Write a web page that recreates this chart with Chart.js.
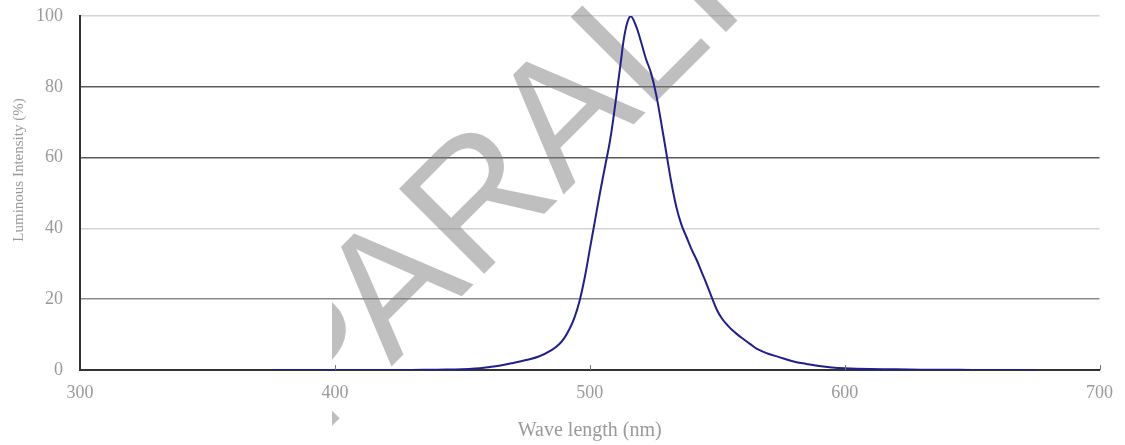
<!DOCTYPE html>
<html>
<head>
<meta charset="utf-8">
<script src="https://cdn.jsdelivr.net/npm/chart.js@4.4.1/dist/chart.umd.min.js"></script>
<style>
  html, body { margin: 0; padding: 0; background: #ffffff; }
  #wrap { width: 1125px; height: 445px; position: relative; }
</style>
</head>
<body>
<div id="wrap"><canvas id="spectrumChart"></canvas></div>
<script>
// emission spectrum
const wavelengths = [375, 380, 390, 400, 410, 420, 430, 440, 450, 455, 460, 465, 470, 475, 480, 485, 488, 490, 492, 494, 496, 498, 500, 502, 504, 506, 508, 510, 512, 514, 516, 518, 520, 522, 524, 526, 528, 530, 532, 534, 536, 538, 540, 542, 544, 546, 548, 550, 552, 554, 556, 558, 560, 563, 566, 570, 574, 580, 585, 590, 595, 600, 610, 620, 630, 640, 650, 660, 675];
const intensity = [0, 0, 0, 0, 0, 0, 0, 0.1, 0.2, 0.4, 0.8, 1.3, 2.0, 2.8, 3.8, 5.6, 7.3, 9.0, 11.5, 14.8, 19.5, 26, 34, 42, 50, 57.5, 65, 75, 86, 96, 100, 97.5, 93, 88, 84, 78, 70, 61.5, 53, 46, 41, 37.5, 34, 31, 27.5, 24, 20.3, 16.8, 14.4, 12.7, 11.2, 10, 8.9, 7.3, 5.8, 4.6, 3.7, 2.4, 1.7, 1.1, 0.7, 0.5, 0.3, 0.2, 0.1, 0.1, 0, 0, 0];

const xTickValues = [300, 400, 500, 600, 700];
const yTickValues = [0, 20, 40, 60, 80, 100];
const xTitle = "Wave length (nm)";
const yTitle = "Luminous Intensity (%)";
const watermarkText = "PARALIGHT";

// gridline shades differ in the source image
const gridShade = { 0: "#333333", 20: "#8a8a8a", 40: "#d4d4d4", 60: "#5a5a5a", 80: "#5a5a5a", 100: "#d4d4d4" };
const labelGray = "#9a9a9a";
const serif = '"Liberation Serif", "Times New Roman", serif';

const watermark = {
  id: "watermark",
  beforeDatasetsDraw(chart) {
    const ctx = chart.ctx;
    ctx.save();
    ctx.beginPath();
    ctx.rect(332, 0, chart.width - 332, chart.height);
    ctx.clip();
    ctx.translate(318, 440);
    ctx.rotate(-Math.PI / 4);
    ctx.font = '175px "Liberation Sans", Arial, sans-serif';
    ctx.fillStyle = "rgba(128,128,128,0.5)";
    ctx.textBaseline = "alphabetic";
    ctx.fillText(watermarkText, 0, 0);
    ctx.restore();
  }
};

// small inward tick marks on the x axis, plus the y title a bit above centre
const extras = {
  id: "extras",
  afterDraw(chart) {
    const ctx = chart.ctx;
    const xs = chart.scales.x;
    const base = chart.chartArea.bottom;
    ctx.save();
    ctx.strokeStyle = "#777777";
    ctx.lineWidth = 1;
    xTickValues.slice(1).forEach(v => {
      const px = Math.round(xs.getPixelForValue(v)) + 0.5;
      ctx.beginPath();
      ctx.moveTo(px, base);
      ctx.lineTo(px, base - 5);
      ctx.stroke();
    });
    ctx.translate(19, 170);
    ctx.rotate(-Math.PI / 2);
    ctx.font = "15px " + serif;
    ctx.fillStyle = labelGray;
    ctx.textAlign = "center";
    ctx.textBaseline = "middle";
    ctx.fillText(yTitle, 0, 0);
    ctx.restore();
  }
};

const points = wavelengths.map((w, i) => ({ x: w, y: intensity[i] }));

new Chart(document.getElementById("spectrumChart").getContext("2d"), {
  type: "line",
  data: {
    datasets: [
      {
        label: "Luminous Intensity",
        data: points,
        borderColor: "#1f1f8f",
        borderWidth: 2,
        pointRadius: 0,
        tension: 0.4,
        fill: false
      }
    ]
  },
  plugins: [watermark, extras],
  options: {
    responsive: true,
    maintainAspectRatio: false,
    animation: false,
    layout: { padding: { top: 16, right: 19, left: 0, bottom: 0 } },
    plugins: {
      legend: { display: false },
      tooltip: { enabled: false }
    },
    scales: {
      x: {
        type: "linear",
        min: 300,
        max: 700,
        afterBuildTicks: (axis) => { axis.ticks = xTickValues.map(v => ({ value: v })); },
        afterFit: (axis) => { axis.height = 75; },
        ticks: {
          color: labelGray,
          padding: 12,
          maxRotation: 0,
          font: { family: serif, size: 18 }
        },
        grid: { display: false, drawTicks: false },
        border: { display: true, color: "#333333", width: 2 },
        title: {
          display: true,
          text: xTitle,
          color: labelGray,
          font: { family: serif, size: 20 },
          padding: { top: 0, bottom: 2 }
        }
      },
      y: {
        min: 0,
        max: 100,
        afterBuildTicks: (axis) => { axis.ticks = yTickValues.map(v => ({ value: v })); },
        afterFit: (axis) => {
          axis.width = 80;
          axis.paddingTop = 0;
          axis.paddingBottom = 0;
        },
        ticks: {
          color: labelGray,
          padding: 17,
          font: { family: serif, size: 18 }
        },
        grid: {
          drawTicks: false,
          lineWidth: 1.5,
          color: (c) => gridShade[c.tick.value] || "#888888"
        },
        border: { display: true, color: "#333333", width: 2 }
      }
    }
  }
});
</script>
</body>
</html>
